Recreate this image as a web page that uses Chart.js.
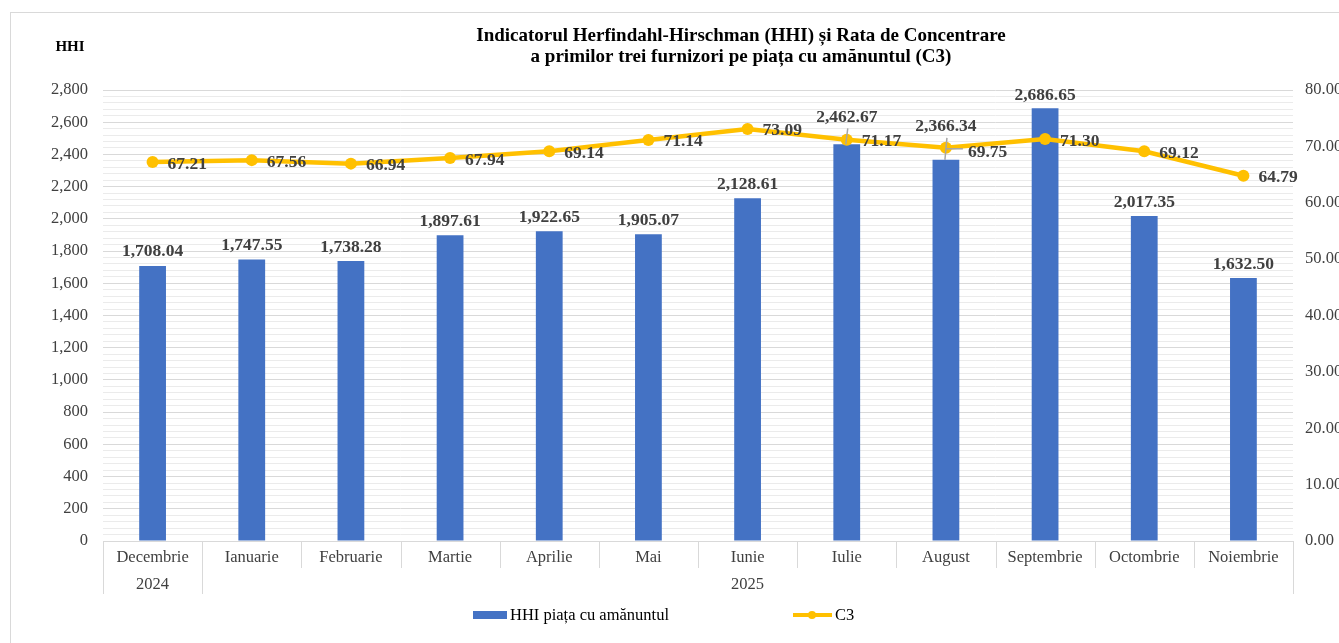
<!DOCTYPE html>
<html>
<head>
<meta charset="utf-8">
<script src="https://cdn.jsdelivr.net/npm/chart.js@4.4.1/dist/chart.umd.min.js"></script>
<style>
  body { margin: 0; background: #fff; }
  canvas { display: block; }
</style>
</head>
<body>
<canvas id="hhiChart" width="1339" height="643"></canvas>
<script>
const months = ["Decembrie", "Ianuarie", "Februarie", "Martie", "Aprilie", "Mai",
  "Iunie", "Iulie", "August", "Septembrie", "Octombrie", "Noiembrie"];
const years = [
  { label: "2024", from: 0, to: 0 },
  { label: "2025", from: 1, to: 11 },
];
const hhiValues = [1708.04, 1747.55, 1738.28, 1897.61, 1922.65, 1905.07,
  2128.61, 2462.67, 2366.34, 2686.65, 2017.35, 1632.50];
const c3Values = [67.21, 67.56, 66.94, 67.94, 69.14, 71.14,
  73.09, 71.17, 69.75, 71.30, 69.12, 64.79];
const titleLines = [
  "Indicatorul Herfindahl-Hirschman (HHI) și Rata de Concentrare",
  "a primilor trei furnizori pe piața cu amănuntul (C3)",
];

// label lift above bar top (px); Iulie & August are pushed up with leader lines
const barLabelLift = [14, 14, 14, 14, 14, 14, 14, 27, 33, 13, 14, 14];

const SERIF = "'Liberation Serif', 'Times New Roman', serif";
const BLUE = "#4472C4";
const GOLD = "#FFC000";
const GRID = "#d9d9d9";
const TEXT = "#404040";

const fmt = (v) =>
  v.toLocaleString("en-US", { minimumFractionDigits: 2, maximumFractionDigits: 2 });

const decorPlugin = {
  id: "decor",
  beforeDraw(chart) {
    const ctx = chart.ctx;
    ctx.save();
    ctx.fillStyle = "#fff";
    ctx.fillRect(0, 0, chart.width, chart.height);
    ctx.strokeStyle = GRID;
    ctx.lineWidth = 1;
    ctx.strokeRect(10.5, 12.5, 3000, 3000);
    ctx.restore();
  },
  afterDraw(chart) {
    const ctx = chart.ctx;
    const area = chart.chartArea;
    const xs = chart.scales.x;
    const cw = (area.right - area.left) / months.length;
    ctx.save();

    // title
    ctx.fillStyle = "#000";
    ctx.textAlign = "center";
    ctx.textBaseline = "middle";
    ctx.font = "bold 19px " + SERIF;
    ctx.fillText(titleLines[0], 741, 36);
    ctx.fillText(titleLines[1], 741, 57);
    ctx.font = "bold 15px " + SERIF;
    ctx.fillText("HHI", 70, 47);

    // category labels and separators
    ctx.strokeStyle = GRID;
    ctx.lineWidth = 1;
    for (let i = 0; i <= months.length; i++) {
      const x = Math.round(area.left + i * cw) + 0.5;
      const long = i === 0 || i === 1 || i === months.length;
      ctx.beginPath();
      ctx.moveTo(x, area.bottom);
      ctx.lineTo(x, area.bottom + (long ? 53 : 27));
      ctx.stroke();
    }
    ctx.fillStyle = TEXT;
    ctx.font = "16.5px " + SERIF;
    months.forEach((m, i) => {
      ctx.fillText(m, xs.getPixelForValue(i), area.bottom + 17);
    });
    years.forEach((y) => {
      const x0 = area.left + y.from * cw;
      const x1 = area.left + (y.to + 1) * cw;
      const cx = y.from === y.to ? (x0 + x1) / 2 : area.left + 6.5 * cw;
      ctx.fillText(y.label, cx, area.bottom + 44);
    });

    // legend
    ctx.fillStyle = BLUE;
    ctx.fillRect(473, 611, 34, 8);
    ctx.fillStyle = "#000";
    ctx.textAlign = "left";
    ctx.fillText("HHI piața cu amănuntul", 510, 616);
    ctx.strokeStyle = GOLD;
    ctx.lineWidth = 4;
    ctx.beginPath();
    ctx.moveTo(793, 615);
    ctx.lineTo(832, 615);
    ctx.stroke();
    ctx.fillStyle = GOLD;
    ctx.beginPath();
    ctx.arc(812, 615, 4, 0, Math.PI * 2);
    ctx.fill();
    ctx.fillStyle = "#000";
    ctx.fillText("C3", 835, 616);
    ctx.restore();
  },
  afterDatasetsDraw(chart) {
    const ctx = chart.ctx;
    const bars = chart.getDatasetMeta(0).data;
    const pts = chart.getDatasetMeta(1).data;
    ctx.save();
    ctx.font = "bold 17.5px " + SERIF;
    ctx.fillStyle = TEXT;
    ctx.textBaseline = "middle";

    // leader lines
    ctx.strokeStyle = "#a6a6a6";
    ctx.lineWidth = 1.5;
    [7, 8].forEach((i) => {
      const b = bars[i];
      ctx.beginPath();
      ctx.moveTo(b.x + 1, b.y - barLabelLift[i] + 11);
      ctx.lineTo(b.x - 1, b.y);
      ctx.stroke();
    });
    ctx.beginPath();
    ctx.moveTo(pts[8].x, pts[8].y + 1);
    ctx.lineTo(pts[8].x + 17, pts[8].y + 1);
    ctx.stroke();

    ctx.textAlign = "center";
    bars.forEach((b, i) => {
      ctx.fillText(fmt(hhiValues[i]), b.x, b.y - barLabelLift[i]);
    });
    ctx.textAlign = "left";
    pts.forEach((p, i) => {
      const dx = i === 8 ? 22 : 15;
      const dy = i === 8 ? 5 : 2;
      ctx.fillText(fmt(c3Values[i]), p.x + dx, p.y + dy);
    });
    ctx.restore();
  },
};

new Chart(document.getElementById("hhiChart"), {
  data: {
    labels: months,
    datasets: [
      {
        type: "bar",
        label: "HHI piața cu amănuntul",
        data: hhiValues,
        backgroundColor: BLUE,
        barPercentage: 0.27,
        categoryPercentage: 1,
        yAxisID: "y",
        order: 1,
      },
      {
        type: "line",
        label: "C3",
        data: c3Values,
        borderColor: GOLD,
        backgroundColor: GOLD,
        borderWidth: 4.5,
        pointRadius: 6,
        pointBorderWidth: 0,
        pointBackgroundColor: GOLD,
        tension: 0,
        yAxisID: "y1",
        order: 0,
      },
    ],
  },
  options: {
    responsive: false,
    animation: false,
    layout: { padding: { top: 90, left: 0, right: 0, bottom: 0 } },
    plugins: {
      legend: { display: false },
      title: { display: false },
      tooltip: { enabled: false },
    },
    scales: {
      x: {
        offset: true,
        grid: { display: false },
        border: { display: true, color: GRID },
        ticks: { display: false },
        afterFit: (s) => { s.height = 102; },
      },
      y: {
        position: "left",
        min: 0,
        max: 2800,
        border: { display: false },
        grid: {
          drawTicks: false,
          color: (c) => (c.tick && c.tick.value % 200 === 0 ? GRID : "#ebebeb"),
        },
        ticks: {
          stepSize: 40,
          maxTicksLimit: 200,
          autoSkip: false,
          padding: 15,
          color: TEXT,
          font: { family: SERIF, size: 16.5 },
          callback: (v) => (v % 200 === 0 ? v.toLocaleString("en-US") : ""),
        },
        afterFit: (s) => { s.width = 103; },
      },
      y1: {
        position: "right",
        min: 0,
        max: 80,
        border: { display: false },
        grid: { display: false, drawTicks: false },
        ticks: {
          stepSize: 10,
          padding: 12,
          color: TEXT,
          font: { family: SERIF, size: 16.5 },
          callback: (v) => v.toFixed(2),
        },
        afterFit: (s) => { s.width = 46; },
      },
    },
  },
  plugins: [decorPlugin],
});
</script>
</body>
</html>
